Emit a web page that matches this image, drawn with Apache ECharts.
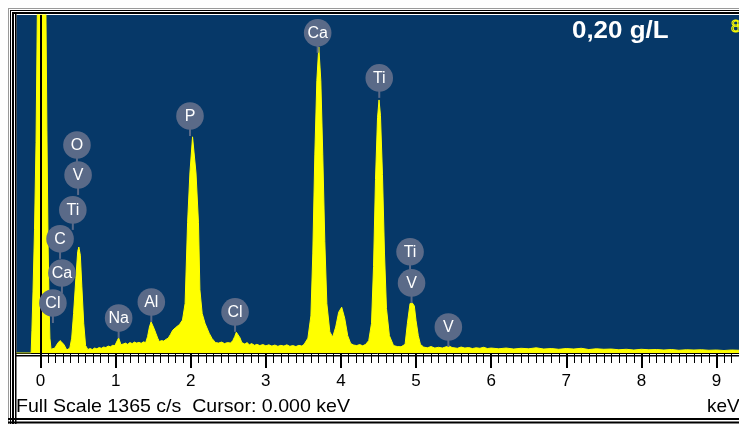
<!DOCTYPE html>
<html>
<head>
<meta charset="utf-8">
<script src="https://cdn.jsdelivr.net/npm/echarts@6/dist/echarts.min.js"></script>
<style>
  html, body { margin: 0; padding: 0; background: #ffffff; }
  #chart { width: 739px; height: 426px; }
</style>
</head>
<body>
<div id="chart"></div>
<script>
// EDS spectrum, 0.20 g/L sample — energy (keV) and counts (full scale 1365 c/s)
const energyKeV = [
  -0.32, -0.125, -0.115, -0.10, -0.08, -0.06, -0.04, 0.0, 0.07, 0.085, 0.10, 0.115, 0.125, 0.14,
  0.16, 0.19, 0.23, 0.26, 0.28, 0.31, 0.35, 0.39, 0.415, 0.44, 0.47, 0.495, 0.51, 0.53, 0.55, 0.575, 0.60, 0.63,
  0.66, 0.69, 0.72, 0.75, 0.78, 0.81, 0.84, 0.87, 0.90, 0.93, 0.96, 0.99,
  1.01, 1.025, 1.04, 1.055, 1.07, 1.10, 1.13, 1.16, 1.19, 1.22, 1.25, 1.28, 1.31, 1.34, 1.37, 1.40,
  1.425, 1.45, 1.472, 1.49, 1.51, 1.538, 1.56, 1.582, 1.61, 1.64, 1.67, 1.70, 1.73, 1.76, 1.80, 1.85, 1.89,
  1.925, 1.958, 1.989, 2.024, 2.07, 2.103, 2.122, 2.152, 2.19, 2.245, 2.285, 2.33, 2.37, 2.41, 2.45, 2.49, 2.53,
  2.56, 2.585, 2.607, 2.63, 2.655, 2.68, 2.72, 2.75, 2.78, 2.81, 2.85, 2.88, 2.92, 2.96, 3.00, 3.04, 3.08,
  3.12, 3.16, 3.20, 3.24, 3.28, 3.32, 3.36, 3.40, 3.44, 3.48,
  3.51, 3.56, 3.60, 3.625, 3.652, 3.679, 3.705, 3.732, 3.758, 3.785, 3.812, 3.852, 3.89, 3.93, 3.97, 4.01,
  4.05, 4.09, 4.13, 4.17, 4.21, 4.25, 4.29,
  4.33, 4.37, 4.407, 4.434, 4.46, 4.487, 4.507, 4.526, 4.553, 4.58, 4.606, 4.645, 4.70, 4.75, 4.80,
  4.854, 4.885, 4.92, 4.95, 4.977, 5.00, 5.03, 5.058, 5.10, 5.15, 5.20, 5.25, 5.30, 5.35, 5.40, 5.44, 5.48,
  5.55, 5.60, 5.65, 5.70, 5.75, 5.80, 5.85, 5.90, 5.95, 6.00, 6.10, 6.20, 6.30, 6.40, 6.50, 6.60, 6.70,
  6.80, 6.90, 7.00, 7.10, 7.20, 7.30, 7.40, 7.50, 7.60, 7.70, 7.80, 7.90, 8.00, 8.10, 8.20, 8.30, 8.40,
  8.50, 8.60, 8.70, 8.80, 8.90, 9.00, 9.10, 9.20, 9.30
];
const counts = [
  0, 0, 90, 250, 500, 850, 1450, 3500, 1450, 900, 450, 180, 60, 15,
  8, 20, 40, 50, 53, 35, 12, 20, 60, 160, 300, 410, 428, 395, 270, 120, 30, 14,
  18, 14, 20, 17, 22, 19, 24, 22, 28, 25, 31, 30,
  38, 52, 61, 48, 34, 36, 40, 35, 42, 38, 44, 40, 43, 39, 45, 42,
  66, 105, 126, 118, 100, 78, 60, 46, 50, 48, 55, 60, 75, 92, 103, 115, 133,
  200, 526, 727, 873, 727, 526, 255, 160, 120, 80, 58, 42, 40, 44, 38, 42, 40,
  50, 66, 84, 76, 62, 42, 36, 42, 33, 38, 31, 35, 30, 34, 29, 33, 28,
  32, 27, 31, 28, 33, 27, 30, 26, 31, 28,
  35, 60, 150, 400, 800, 1100, 1236, 1100, 800, 450, 200, 85, 65, 105, 165, 185,
  140, 70, 38, 32, 30, 34, 29,
  35, 50, 120, 350, 700, 950, 1022, 960, 720, 400, 180, 70, 30, 26, 25,
  35, 120, 200, 202, 190, 130, 70, 35, 24, 21, 26, 20, 23, 20, 25, 28, 22,
  19, 24, 20, 22, 18, 21, 19, 23, 18, 20, 17, 20, 16, 19, 17, 21, 16,
  18, 15, 18, 16, 19, 14, 17, 15, 16, 13, 15, 12, 15, 13, 14, 12, 14,
  11, 13, 12, 13, 11, 12, 10, 12, 11
];

// Element identification markers: symbol, line energy (keV), marker height (counts)
const markerNames  = ['Cl', 'Ca', 'C', 'Ti', 'V', 'O', 'Na', 'Al', 'P', 'Cl', 'Ca', 'Ti', 'Ti', 'V', 'V'];
const markerKeV    = [0.165, 0.285, 0.26, 0.43, 0.50, 0.485, 1.04, 1.475, 1.99, 2.59, 3.69, 4.51, 4.92, 4.94, 5.43];
const markerLevel  = [202, 323, 461, 578, 719, 840, 141, 206, 957, 166, 1293, 1111, 409, 283, 105];

// Axis ticks (keV)
const majorTicks = [0, 1, 2, 3, 4, 5, 6, 7, 8, 9];
const tickLabels = ['0', '1', '2', '3', '4', '5', '6', '7', '8', '9'];
const minorTicks = [];
for (let i = 1; i <= 92; i++) { if (i % 10 !== 0) minorTicks.push(i / 10); }

const fullScale = 1365;
const cursorKeV = 0.000;
const sampleLabel = '0,20 g/L';
const statusText = 'Full Scale ' + fullScale + ' c/s  Cursor: ' + cursorKeV.toFixed(3) + ' keV';

const spectrum = energyKeV.map((e, i) => [e, counts[i]]);
const markers = markerNames.map((n, i) => [markerKeV[i], markerLevel[i], n]);

const chart = echarts.init(document.getElementById('chart'), null, { renderer: 'canvas' });
const MARK = '#5a6a88';
const FONT = '"Liberation Sans", Arial, sans-serif';

const hline = (x, y, w, h, c) => ({ type: 'rect', silent: true, shape: { x, y, width: w, height: h }, style: { fill: c } });

chart.setOption({
  animation: false,
  backgroundColor: '#ffffff',
  grid: {
    left: 16.5, top: 15, width: 725.3, height: 338,
    show: true, backgroundColor: '#063868', borderWidth: 0
  },
  xAxis: [{
    type: 'value', min: -0.32, max: 9.3,
    axisLine: { show: true, onZero: false, lineStyle: { color: '#000', width: 1 } },
    axisTick: { show: true, customValues: majorTicks, length: 15, lineStyle: { color: '#000', width: 2 } },
    axisLabel: {
      show: true, customValues: majorTicks, margin: 20,
      formatter: v => tickLabels[majorTicks.indexOf(Math.round(v))],
      color: '#000', fontSize: 17, fontFamily: FONT
    },
    splitLine: { show: false }
  }, {
    type: 'value', min: -0.32, max: 9.3, position: 'bottom',
    axisLine: { show: false, onZero: false },
    axisTick: { show: true, customValues: minorTicks, length: 10, lineStyle: { color: '#000', width: 1 } },
    axisLabel: { show: false },
    splitLine: { show: false }
  }],
  yAxis: {
    type: 'value', min: 0, max: fullScale, show: false,
    splitLine: { show: false }
  },
  series: [{
    type: 'line',
    data: spectrum,
    xAxisIndex: 0,
    showSymbol: false,
    clip: true,
    lineStyle: { color: '#ffff00', width: 1 },
    areaStyle: { color: '#ffff00', opacity: 1 },
    markLine: {
      silent: true, symbol: 'none', animation: false,
      label: { show: false },
      lineStyle: { color: '#000000', width: 2, type: 'solid' },
      data: [{ xAxis: cursorKeV }]
    },
    z: 2
  }, {
    type: 'custom',
    data: markers,
    xAxisIndex: 0,
    z: 5,
    renderItem: (params, api) => {
      const p = api.coord([api.value(0), api.value(1)]);
      const name = markers[params.dataIndex][2];
      return {
        type: 'group',
        children: [
          { type: 'rect', shape: { x: p[0] - 1, y: p[1], width: 2, height: 20 }, style: { fill: MARK } },
          { type: 'circle', shape: { cx: p[0], cy: p[1], r: 13.8 }, style: { fill: MARK } },
          { type: 'text', style: {
              text: name, x: p[0], y: p[1] + 0.5, align: 'center', verticalAlign: 'middle',
              fill: '#ffffff', font: '16px ' + FONT
          } }
        ]
      };
    }
  }],
  graphic: [
    // window frame
    hline(8, 8, 731, 1, '#9a9a9a'),
    hline(8, 8, 1, 416, '#9a9a9a'),
    hline(10, 10, 729, 1, '#000'),
    hline(10, 10, 1, 414, '#000'),
    hline(12, 12, 727, 2, '#000'),
    hline(12, 12, 2, 412, '#000'),
    hline(15, 14, 1.5, 410, '#000'),
    hline(8, 418, 731, 2, '#000'),
    hline(8, 421.5, 731, 2, '#000'),
    // second rule under the spectrum
    hline(16, 355, 723, 1.6, '#000'),
    // sample label
    { type: 'text', silent: true, x: 572, y: 31, scaleX: 1.08, style: {
        text: sampleLabel, x: 0, y: 0, verticalAlign: 'middle',
        fill: '#ffffff', font: 'bold 24px ' + FONT } },
    { type: 'text', silent: true, style: {
        text: '8', x: 731, y: 27, verticalAlign: 'middle',
        fill: 'none', stroke: '#ffff00', lineWidth: 1, font: '17px ' + FONT } },
    // status line
    { type: 'text', silent: true, x: 16, y: 407, scaleX: 1.03, style: {
        text: statusText, x: 0, y: 0, verticalAlign: 'middle',
        fill: '#000', font: '19px ' + FONT } },
    { type: 'text', silent: true, style: {
        text: 'keV', x: 707, y: 407, verticalAlign: 'middle',
        fill: '#000', font: '19px ' + FONT } }
  ]
});
</script>
</body>
</html>
